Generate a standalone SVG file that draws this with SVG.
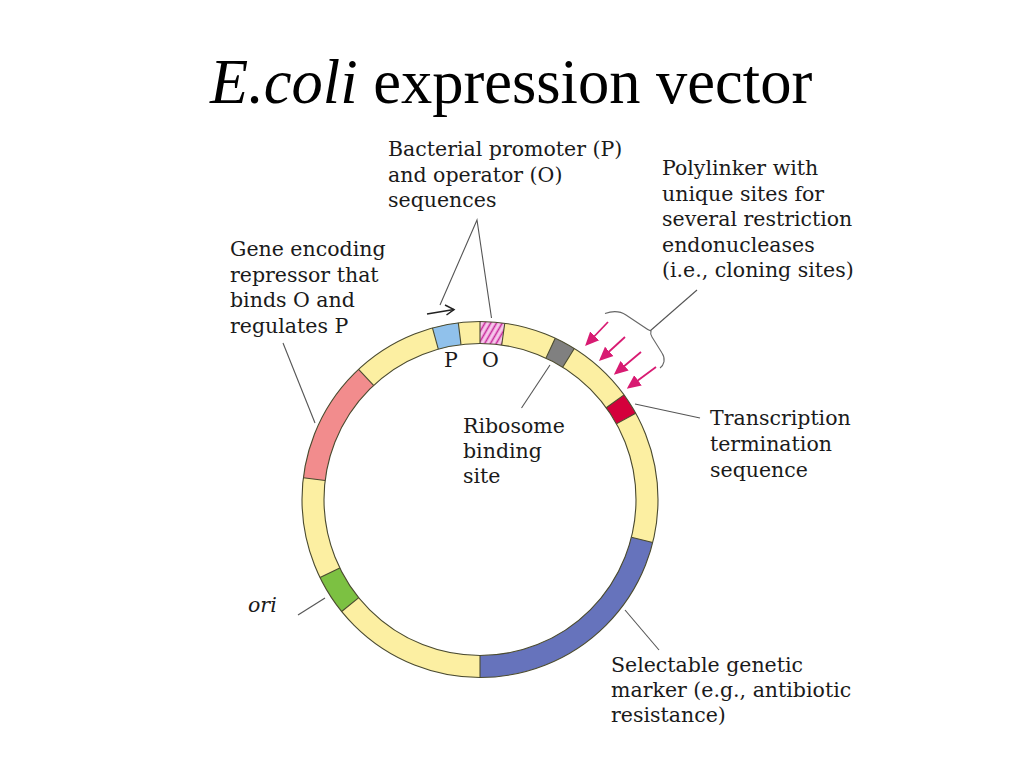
<svg xmlns="http://www.w3.org/2000/svg" width="1024" height="768" viewBox="0 0 1024 768">
<defs>
<style>
.lbl{font-family:"DejaVu Serif","Liberation Serif",serif;font-size:20.5px;fill:#1a1a1a}
.it{font-style:italic}
.ldr{stroke:#555;stroke-width:1.1;fill:none}
.seg{fill:none;stroke-width:22}
.sep{stroke:#4a4a30;stroke-width:1.1}
.edge{fill:none;stroke:#4a4a30;stroke-width:1.1}
.pk{stroke:#D81B72;stroke-width:1.8;fill:none}
</style>
<pattern id="hatch" patternUnits="userSpaceOnUse" width="5" height="5" patternTransform="rotate(30)">
<rect width="5" height="5" fill="#F7C9EC"/>
<line x1="1.5" y1="0" x2="1.5" y2="5" stroke="#C8289A" stroke-width="1.6"/>
</pattern>
<marker id="pkhead" viewBox="0 0 10 10" refX="8" refY="5" markerWidth="14" markerHeight="14" markerUnits="userSpaceOnUse" orient="auto">
<path d="M0,0.5 L10,5 L0,9.5 Z" fill="#D81B72"/>
</marker>
</defs>
<rect width="1024" height="768" fill="#fff"/>
<text x="210" y="103" font-family="Liberation Serif,serif" font-size="62.5" fill="#000"><tspan font-style="italic">E.coli</tspan> expression vector</text>

<g id="plasmid">
<circle cx="480" cy="499.5" r="167" class="seg" stroke="#FCEFA2"/>
<path id="repressor" class="seg" stroke="#F28C8D" d="M314.24,479.15 A167,167 0 0 1 366.11,377.36"/>
<path id="promoter" class="seg" stroke="#90C1EB" d="M435.37,338.57 A167,167 0 0 1 459.65,333.74"/>
<path id="operator" class="seg" stroke="url(#hatch)" d="M480,332.5 A167,167 0 0 1 503.24,334.12"/>
<path id="rbs" class="seg" stroke="#808080" d="M550.58,348.15 A167,167 0 0 1 568.50,357.88"/>
<path id="terminator" class="seg" stroke="#D4003C" d="M615.11,401.34 A167,167 0 0 1 626.06,418.54"/>
<path id="marker" class="seg" stroke="#6673BC" d="M642.04,539.90 A167,167 0 0 1 480,666.5"/>
<path id="ori-seg" class="seg" stroke="#7CC142" d="M350.22,604.60 A167,167 0 0 1 329.90,572.71"/>
<circle cx="480" cy="499.5" r="178" class="edge"/>
<circle cx="480" cy="499.5" r="156" class="edge"/>
<g class="sep">
<line x1="325.16" y1="480.49" x2="303.33" y2="477.81"/>
<line x1="373.61" y1="385.41" x2="358.60" y2="369.32"/>
<line x1="438.31" y1="349.17" x2="432.43" y2="327.97"/>
<line x1="460.99" y1="344.66" x2="458.31" y2="322.83"/>
<line x1="480" y1="343.5" x2="480" y2="321.5"/>
<line x1="501.71" y1="345.02" x2="504.77" y2="323.23"/>
<line x1="545.93" y1="358.12" x2="555.23" y2="338.18"/>
<line x1="562.67" y1="367.20" x2="574.33" y2="348.55"/>
<line x1="606.21" y1="407.80" x2="624.01" y2="394.87"/>
<line x1="616.44" y1="423.87" x2="635.68" y2="413.20"/>
<line x1="631.37" y1="537.24" x2="652.71" y2="542.56"/>
<line x1="480" y1="655.5" x2="480" y2="677.5"/>
<line x1="358.76" y1="597.67" x2="341.67" y2="611.52"/>
<line x1="339.79" y1="567.89" x2="320.02" y2="577.53"/>
</g>
</g>

<g id="connectors">
<polyline class="ldr" points="440,305 477,220 491.5,318"/>
<line class="ldr" x1="283" y1="343" x2="315" y2="423"/>
<line class="ldr" x1="298" y1="615" x2="325" y2="598"/>
<line class="ldr" x1="550" y1="365" x2="521.5" y2="408"/>
<line class="ldr" x1="650" y1="331" x2="697" y2="290"/>
<line class="ldr" x1="635" y1="404" x2="700" y2="418"/>
<line class="ldr" x1="625" y1="610" x2="659" y2="650"/>
<g id="transcription-arrow" stroke="#222" stroke-width="1.5" fill="none">
<line x1="427" y1="314" x2="454" y2="309.5"/>
<polyline points="445,305 454,309.5 446.5,315"/>
</g>
<path id="brace" d="M605,313.5 C612,311 620,311 626,315 L644,327 Q648,330 651,331 Q650,334 652,337 L662,353 C666,359 664,365 660,368" fill="none" stroke="#666" stroke-width="1.1"/>
<g id="cloning-arrows">
<line class="pk" x1="608" y1="322" x2="587" y2="344" marker-end="url(#pkhead)"/>
<line class="pk" x1="625" y1="337" x2="601" y2="359" marker-end="url(#pkhead)"/>
<line class="pk" x1="641" y1="352" x2="616" y2="373" marker-end="url(#pkhead)"/>
<line class="pk" x1="656" y1="367" x2="629" y2="387" marker-end="url(#pkhead)"/>
</g>
</g>

<g id="label-promoter"><text class="lbl"><tspan x="388" y="156">Bacterial promoter (P)</tspan><tspan x="388" y="181.5">and operator (O)</tspan><tspan x="388" y="207">sequences</tspan></text></g>
<g id="label-repressor"><text class="lbl"><tspan x="230" y="256">Gene encoding</tspan><tspan x="230" y="281.5">repressor that</tspan><tspan x="230" y="307">binds O and</tspan><tspan x="230" y="332.5">regulates P</tspan></text></g>
<g id="label-polylinker"><text class="lbl"><tspan x="662" y="175">Polylinker with</tspan><tspan x="662" y="200.5">unique sites for</tspan><tspan x="662" y="226">several restriction</tspan><tspan x="662" y="251.5">endonucleases</tspan><tspan x="662" y="277">(i.e., cloning sites)</tspan></text></g>
<g id="label-P"><text class="lbl" x="444" y="367" font-size="21.5">P</text></g>
<g id="label-O"><text class="lbl" x="482" y="367" font-size="21.5">O</text></g>
<g id="label-rbs"><text class="lbl"><tspan x="463" y="433">Ribosome</tspan><tspan x="463" y="458">binding</tspan><tspan x="463" y="483">site</tspan></text></g>
<g id="label-terminator"><text class="lbl"><tspan x="710" y="425">Transcription</tspan><tspan x="710" y="451">termination</tspan><tspan x="710" y="477">sequence</tspan></text></g>
<g id="label-marker"><text class="lbl"><tspan x="611" y="671.5">Selectable genetic</tspan><tspan x="611" y="697">marker (e.g., antibiotic</tspan><tspan x="611" y="722">resistance)</tspan></text></g>
<g id="label-ori"><text class="lbl it" x="248" y="612">ori</text></g>
</svg>
